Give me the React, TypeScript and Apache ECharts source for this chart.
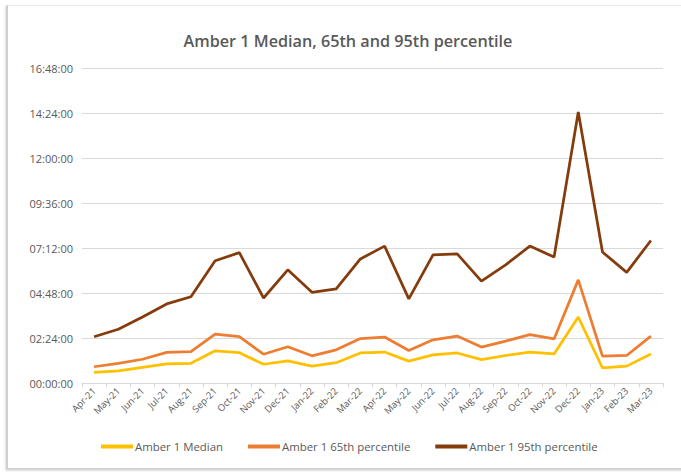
import React, { useEffect, useRef } from "react";
import * as echarts from "echarts";

const categories = [
  "Apr-21", "May-21", "Jun-21", "Jul-21", "Aug-21", "Sep-21", "Oct-21", "Nov-21",
  "Dec-21", "Jan-22", "Feb-22", "Mar-22", "Apr-22", "May-22", "Jun-22", "Jul-22",
  "Aug-22", "Sep-22", "Oct-22", "Nov-22", "Dec-22", "Jan-23", "Feb-23", "Mar-23",
];

// values in minutes
const median = [35, 40, 51, 62, 64, 104, 98, 61, 72, 55, 66, 97, 100, 71, 91, 97, 76, 89, 100, 94, 212, 49, 55, 94];
const p65 = [53, 64, 77, 99, 101, 157, 149, 93, 117, 88, 107, 143, 148, 105, 139, 151, 116, 135, 156, 142, 331, 87, 89, 151];
const p95 = [149, 173, 212, 254, 277, 392, 418, 273, 363, 291, 302, 398, 439, 270, 411, 414, 327, 379, 439, 404, 868, 420, 355, 457];

const seriesNames = ["Amber 1 Median", "Amber 1 65th percentile", "Amber 1 95th percentile"];
const colors = ["#FFC000", "#ED7D31", "#843C0C"];

const fmt = (v: number) => {
  const h = Math.floor(v / 60);
  const m = Math.round(v % 60);
  return `${String(h).padStart(2, "0")}:${String(m).padStart(2, "0")}:00`;
};

export default function App() {
  const ref = useRef<HTMLDivElement>(null);
  useEffect(() => {
    if (!ref.current) return;
    const chart = echarts.init(ref.current, null, { renderer: "svg" });
    const data = [median, p65, p95];
    chart.setOption({
      animation: false,
      textStyle: { fontFamily: "Open Sans" },
      title: {
        text: "Amber 1 Median, 65th and 95th percentile",
        left: 343,
        textAlign: "center",
        top: 28,
        textStyle: { fontFamily: "Open Sans", fontSize: 16.2, fontWeight: 600, color: "#595959" },
      },
      legend: {
        bottom: 15,
        left: 96,
        itemWidth: 32,
        itemHeight: 4,
        itemGap: 25,
        icon: "rect",
        textStyle: { fontFamily: "Open Sans", fontSize: 11.4, color: "#595959", padding: [0, 0, 0, -3] },
        data: seriesNames,
      },
      grid: { left: 82, right: 18, top: 68.3, bottom: 88.7, containLabel: false },
      xAxis: {
        type: "category",
        data: categories,
        boundaryGap: true,
        axisLine: { lineStyle: { color: "#d9d9d9", width: 1 } },
        axisTick: { show: true, length: 4, lineStyle: { color: "#d9d9d9" } },
        axisLabel: { rotate: 45, fontSize: 9.5, color: "#595959", fontFamily: "Open Sans", interval: 0, margin: 6 },
      },
      yAxis: {
        type: "value",
        min: 0,
        max: 1008,
        interval: 144,
        axisLine: { show: false },
        axisTick: { show: false },
        splitLine: { lineStyle: { color: "#d9d9d9", width: 1 } },
        axisLabel: { formatter: fmt, fontSize: 11, color: "#595959", fontFamily: "Open Sans", margin: 9 },
      },
      series: seriesNames.map((name, i) => ({
        name,
        type: "line",
        data: data[i],
        symbol: "none",
        lineStyle: { color: colors[i], width: 2.75 },
        itemStyle: { color: colors[i] },
      })),
    });
    return () => chart.dispose();
  }, []);
  return (
    <div style={{ position: "fixed", left: 0, top: 0, width: 681, height: 472, background: "#fff" }}>
      <div
        style={{
          position: "absolute",
          left: 6,
          top: 5,
          width: 700,
          height: 462,
          borderLeft: "2px solid #cfcfcf",
          borderTop: "1px solid #ececec",
          borderBottom: "2px solid #d4d4d4",
          boxShadow: "-1px 1px 2px rgba(0,0,0,0.12)",
        }}
      />
      <div ref={ref} style={{ position: "absolute", left: 0, top: 0, width: 681, height: 472 }} />
    </div>
  );
}
